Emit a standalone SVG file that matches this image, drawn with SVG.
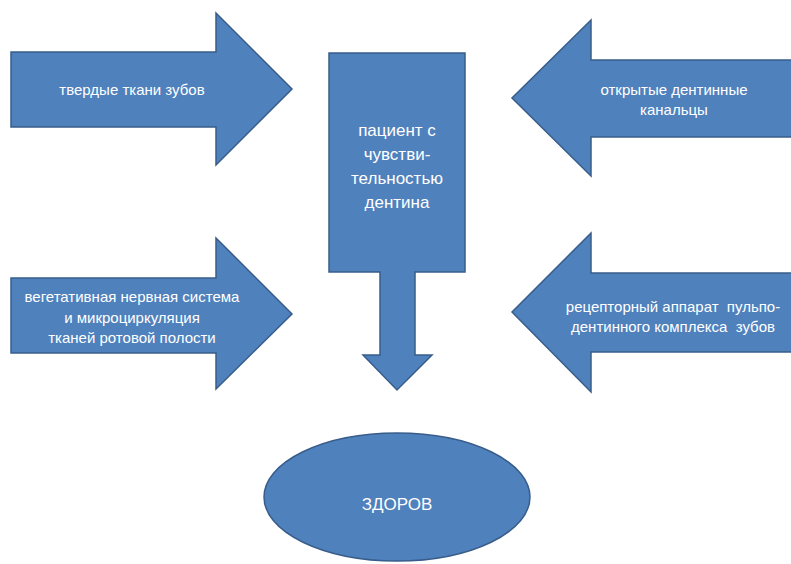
<svg xmlns="http://www.w3.org/2000/svg" width="791" height="564" viewBox="0 0 791 564">
<style>
.s{fill:#4F81BD;stroke:#385D8A;stroke-width:1.5}
.t{fill:#FFFFFF;font-family:"Liberation Sans","Open Sans",sans-serif;font-size:15px;text-anchor:middle}
.c{font-size:17px}
</style>
<rect width="791" height="564" fill="#FFFFFF"/>
<g id="arrow-tverdye">
<path class="s" d="M11,52 H216 V13 L292,89 L216,165 V127 H11 Z"/>
<text class="t" x="132" y="95">твердые ткани зубов</text>
</g>
<g id="arrow-kanaltsy">
<path class="s" d="M792,60 H591 V20 L512,98 L591,176 V137 H792 Z"/>
<text class="t" x="674" y="95">открытые дентинные</text>
<text class="t" x="674" y="115">канальцы</text>
</g>
<g id="arrow-vegetativnaya">
<path class="s" d="M11,278 H216 V238 L292,314 L216,389 V353 H11 Z"/>
<text class="t" x="132" y="302">вегетативная нервная система</text>
<text class="t" x="132" y="323">и микроциркуляция</text>
<text class="t" x="132" y="343">тканей ротовой полости</text>
</g>
<g id="arrow-receptorny">
<path class="s" d="M792,273 H591 V233 L512,312 L591,392 V352 H792 Z"/>
<text class="t" x="673" y="312" xml:space="preserve">рецепторный аппарат  пульпо-</text>
<text class="t" x="673" y="332" xml:space="preserve">дентинного комплекса  зубов</text>
</g>
<g id="patient">
<path class="s" d="M329,53 H465 V272 H415 V355 H432 L397,390 L363,355 H380 V272 H329 Z"/>
<text class="t c" x="397" y="136">пациент с</text>
<text class="t c" x="397" y="160">чувстви-</text>
<text class="t c" x="397" y="184">тельностью</text>
<text class="t c" x="397" y="208">дентина</text>
</g>
<g id="zdorov">
<ellipse class="s" cx="397" cy="497" rx="133" ry="64"/>
<text class="t c" x="397" y="510">ЗДОРОВ</text>
</g>
<g id="connectors"></g>
</svg>
